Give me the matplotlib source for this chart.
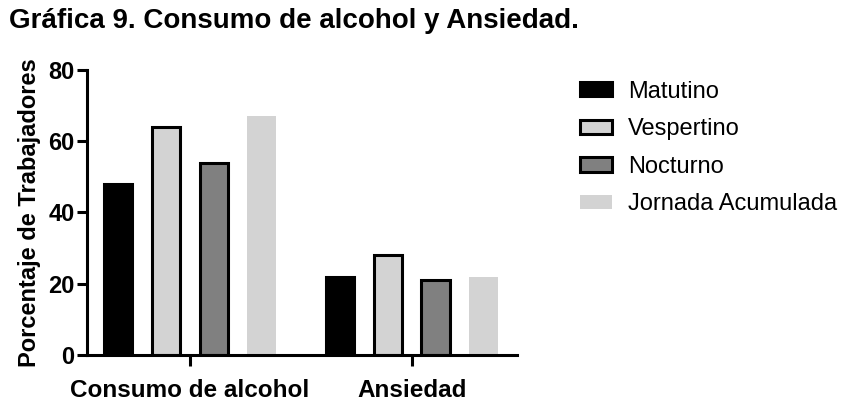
import matplotlib
matplotlib.use('Agg')
import matplotlib.pyplot as plt
import numpy as np
from matplotlib.patches import Patch

plt.rcParams['font.family'] = ['Liberation Sans', 'DejaVu Sans']

grupos = ['Consumo de alcohol', 'Ansiedad']
turnos = ['Matutino', 'Vespertino', 'Nocturno', 'Jornada Acumulada']
matutino = [48, 22]
vespertino = [64, 28]
nocturno = [54, 21]
jornada = [67, 22]
valores = [matutino, vespertino, nocturno, jornada]

colores = ['#000000', '#d3d3d3', '#808080', '#d3d3d3']
bordes = ['#000000', '#000000', '#000000', 'none']

fig = plt.figure(figsize=(8.46, 4.09), dpi=100)
ax = fig.add_axes([0.1028, 0.132, 0.611 - 0.1028, 0.829 - 0.132])

x = np.arange(len(grupos))
ancho = 0.13
paso = 0.216
for i, serie in enumerate(valores):
    pos = x + (i - 1.5) * paso
    if bordes[i] == 'none':
        ax.bar(pos, serie, ancho, color=colores[i], linewidth=0)
    else:
        ax.bar(pos, serie, ancho, color=colores[i], edgecolor=bordes[i], linewidth=2.2)

ax.set_xlim(-0.464, 1.473)
ax.set_ylim(0, 80)
ax.set_yticks([0, 20, 40, 60, 80])
ax.set_xticks(x)
ax.set_xticklabels(grupos, fontsize=17.5, fontweight='bold')
for t in ax.get_yticklabels():
    t.set_fontsize(17)
    t.set_fontweight('bold')
ax.set_ylabel('Porcentaje de Trabajadores', fontsize=17, fontweight='bold', labelpad=5)

ax.spines['top'].set_visible(False)
ax.spines['right'].set_visible(False)
ax.spines['left'].set_linewidth(2.2)
ax.spines['bottom'].set_linewidth(2.2)
ax.tick_params(axis='y', width=2.2, length=7, pad=2)
ax.tick_params(axis='x', width=2.2, length=8, pad=9)

handles = []
for i, t in enumerate(turnos):
    if bordes[i] == 'none':
        handles.append(Patch(facecolor=colores[i], edgecolor='none', label=t))
    else:
        handles.append(Patch(facecolor=colores[i], edgecolor=bordes[i], linewidth=2.2, label=t))
fig.legend(handles=handles, loc='upper left', bbox_to_anchor=(0.6856, 0.803),
           frameon=False, fontsize=17, handlelength=1.36, handleheight=0.55,
           handletextpad=0.68, labelspacing=0.66, borderpad=0, borderaxespad=0)

fig.text(0.0106, 0.949, 'Gráfica 9. Consumo de alcohol y Ansiedad.', fontsize=20,
         fontweight='bold', va='center', ha='left')

fig.savefig('out.png', dpi=100)
